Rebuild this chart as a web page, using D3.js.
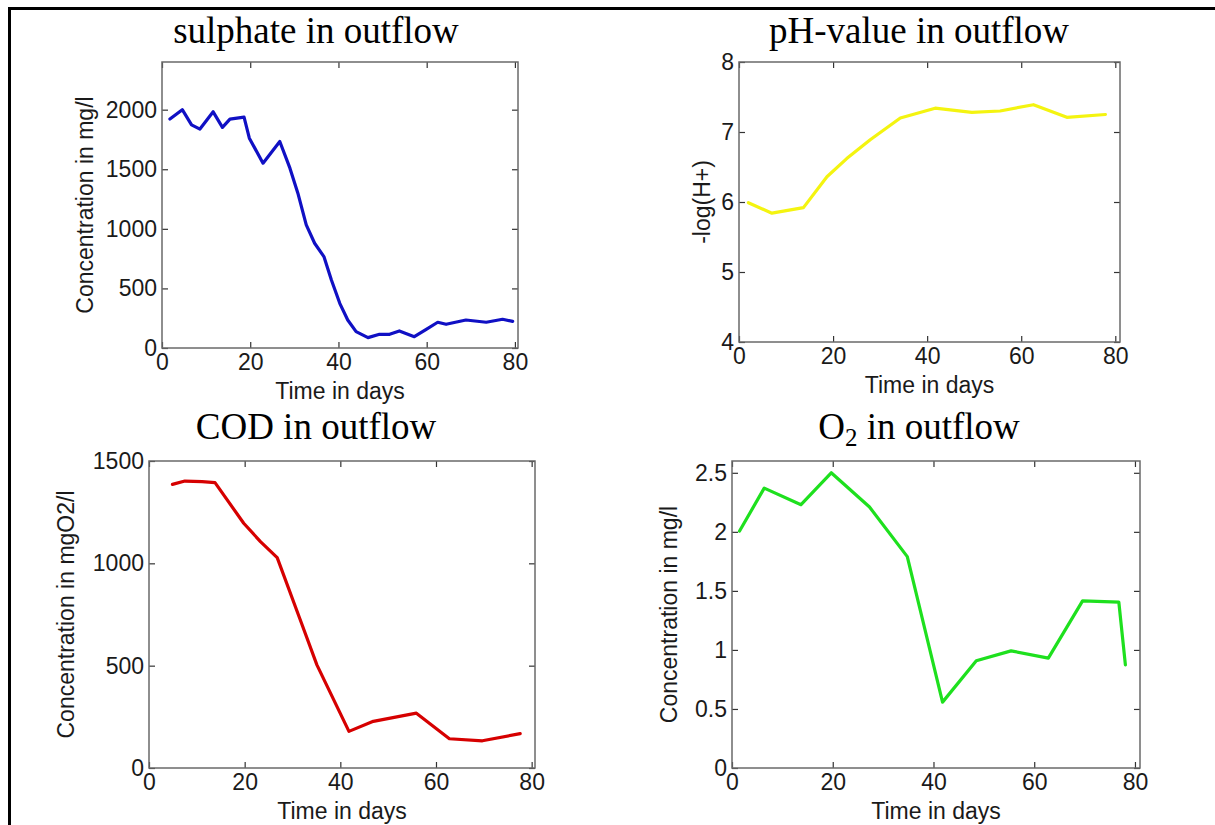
<!DOCTYPE html>
<html>
<head>
<meta charset="utf-8">
<script src="https://cdn.jsdelivr.net/npm/d3@7"></script>
<style>
    body { margin: 0; background: white; }
    svg { display: block; }
    .tick text { font-family: "Liberation Sans", Arial, sans-serif; font-size: 23px; fill: #1a1a1a; }
    .tick line { stroke: #333; stroke-width: 1.2; }
    .panel-title { font-family: "Liberation Serif", "Times New Roman", serif; font-size: 37px; fill: black; }
    .axis-label { font-family: "Liberation Sans", Arial, sans-serif; font-size: 23px; fill: #1a1a1a; }
</style>
</head>
<body>
<script>
// sulphate in outflow (mg/l)
const sulphateDays = [1.8, 4.6, 6.7, 8.6, 11.6, 13.7, 15.4, 18.6, 19.8, 22.9, 26.7, 29, 30.8, 32.7, 34.6, 36.7, 38.4, 40.3, 42.1, 44, 46.7, 49.3, 51.6, 53.8, 57.2, 59.9, 62.5, 64.4, 68.9, 73.5, 77.2, 79.5];
const sulphateValues = [1921, 2000, 1873, 1837, 1982, 1851, 1921, 1938, 1761, 1551, 1733, 1509, 1299, 1033, 879, 767, 571, 375, 235, 137, 87, 115, 115, 143, 95, 157, 216, 199, 235, 216, 241, 224];

// pH-value in outflow
const phDays = [2, 7, 13.7, 18.7, 22.9, 27.9, 34.3, 41.7, 49.5, 55.5, 62.6, 69.7, 77.9];
const phValues = [5.99, 5.84, 5.92, 6.36, 6.62, 6.89, 7.20, 7.34, 7.28, 7.30, 7.39, 7.21, 7.25];

// COD in outflow (mgO2/l)
const codDays = [4.9, 7.5, 11.1, 13.8, 19.8, 23.3, 26.8, 31.5, 35.1, 41.8, 46.9, 55.9, 62.8, 69.7, 77.6];
const codValues = [1386, 1402, 1399, 1394, 1196, 1106, 1028, 732, 504, 179, 228, 268, 143, 133, 168];

// O2 in outflow (mg/l)
const oxygenDays = [1.5, 6.4, 13.7, 19.7, 27.3, 34.8, 41.8, 48.5, 55.4, 62.8, 69.6, 76.8, 78.1];
const oxygenValues = [2.007, 2.37, 2.23, 2.50, 2.21, 1.79, 0.558, 0.908, 0.992, 0.930, 1.415, 1.404, 0.874];

const dayTicks = [0, 20, 40, 60, 80];
const sulphateTicks = [0, 500, 1000, 1500, 2000];
const phTicks = [4, 5, 6, 7, 8];
const codTicks = [0, 500, 1000, 1500];
const oxygenTicks = [0, 0.5, 1, 1.5, 2, 2.5];

const chartDimensions = { width: 1215, height: 825 };
const tickLength = 6;

const panels = [
    { title: "sulphate in outflow", titleX: 316, titleY: 43,
      yLabel: "Concentration in mg/l", yLabelX: 85,
      box: { left: 162, right: 518, top: 62, bottom: 348 },
      xMax: 80.7, yDomain: [0, 2400], yTicks: sulphateTicks,
      days: sulphateDays, values: sulphateValues, color: "#1010c4" },
    { title: "pH-value in outflow", titleX: 919, titleY: 43,
      yLabel: "-log(H+)", yLabelX: 702,
      box: { left: 739, right: 1120, top: 62, bottom: 342 },
      xMax: 81, yDomain: [4, 8], yTicks: phTicks,
      days: phDays, values: phValues, color: "#f4f410" },
    { title: "COD in outflow", titleX: 316, titleY: 439,
      yLabel: "Concentration in mgO2/l", yLabelX: 66,
      box: { left: 149, right: 535, top: 461, bottom: 768 },
      xMax: 80.7, yDomain: [0, 1500], yTicks: codTicks,
      days: codDays, values: codValues, color: "#d60000" },
    { title: "O2", titleX: 919, titleY: 439,
      yLabel: "Concentration in mg/l", yLabelX: 669,
      box: { left: 732, right: 1140, top: 461, bottom: 768 },
      xMax: 81, yDomain: [0, 2.6], yTicks: oxygenTicks,
      days: oxygenDays, values: oxygenValues, color: "#1ee01e" }
];

let svg = d3.select("body")
    .append("svg")
    .attr("width", chartDimensions.width)
    .attr("height", chartDimensions.height);

// page frame (only left and top edges are visible)
svg.append("line")
    .attr("x1", 9.5).attr("x2", 9.5)
    .attr("y1", 7).attr("y2", chartDimensions.height)
    .attr("stroke", "black").attr("stroke-width", 3);
svg.append("line")
    .attr("x1", 8).attr("x2", chartDimensions.width)
    .attr("y1", 8.5).attr("y2", 8.5)
    .attr("stroke", "black").attr("stroke-width", 3);

panels.forEach(drawPanel);

function drawPanel(p) {
    const b = p.box;
    const x = d3.scaleLinear().domain([0, p.xMax]).range([b.left, b.right]);
    const y = d3.scaleLinear().domain(p.yDomain).range([b.bottom, b.top]);

    // title
    let title = svg.append("text")
        .attr("class", "panel-title")
        .attr("x", p.titleX)
        .attr("y", p.titleY)
        .attr("text-anchor", "middle");
    if (p.title === "O2") {
        title.append("tspan").text("O");
        title.append("tspan").text("2").attr("font-size", "25px").attr("dy", 7);
        title.append("tspan").text(" in outflow").attr("dy", -7);
    } else {
        title.text(p.title);
    }

    // line
    const points = p.days.map((d, i) => [d, p.values[i]]);
    svg.append("path")
        .datum(points)
        .attr("fill", "none")
        .attr("stroke", p.color)
        .attr("stroke-width", 3.2)
        .attr("stroke-linejoin", "round")
        .attr("stroke-linecap", "round")
        .attr("d", d3.line().x(d => x(d[0])).y(d => y(d[1])));

    // axes, MATLAB style ticks pointing inward on all four sides
    svg.append("g")
        .attr("transform", "translate(0," + b.bottom + ")")
        .call(d3.axisBottom(x).tickValues(dayTicks).tickSize(-tickLength).tickPadding(6).tickFormat(d3.format("d")))
        .call(g => g.select(".domain").remove());
    svg.append("g")
        .attr("transform", "translate(0," + b.top + ")")
        .call(d3.axisTop(x).tickValues(dayTicks).tickSize(-tickLength).tickFormat(""))
        .call(g => g.select(".domain").remove());
    svg.append("g")
        .attr("transform", "translate(" + b.left + ",0)")
        .call(d3.axisLeft(y).tickValues(p.yTicks).tickSize(-tickLength).tickPadding(5).tickFormat(d => String(d)))
        .call(g => g.select(".domain").remove());
    svg.append("g")
        .attr("transform", "translate(" + b.right + ",0)")
        .call(d3.axisRight(y).tickValues(p.yTicks).tickSize(-tickLength).tickFormat(""))
        .call(g => g.select(".domain").remove());

    svg.append("rect")
        .attr("x", b.left)
        .attr("y", b.top)
        .attr("width", b.right - b.left)
        .attr("height", b.bottom - b.top)
        .attr("fill", "none")
        .attr("stroke", "#6a6a6a")
        .attr("stroke-width", 1.5);

    // axis labels
    svg.append("text")
        .attr("class", "axis-label")
        .attr("x", (b.left + b.right) / 2)
        .attr("y", b.bottom + 51)
        .attr("text-anchor", "middle")
        .text("Time in days");
    svg.append("text")
        .attr("class", "axis-label")
        .attr("transform", "translate(" + p.yLabelX + "," + ((b.top + b.bottom) / 2) + ") rotate(-90)")
        .attr("dy", "0.35em")
        .attr("text-anchor", "middle")
        .text(p.yLabel);
}
</script>
</body>
</html>
